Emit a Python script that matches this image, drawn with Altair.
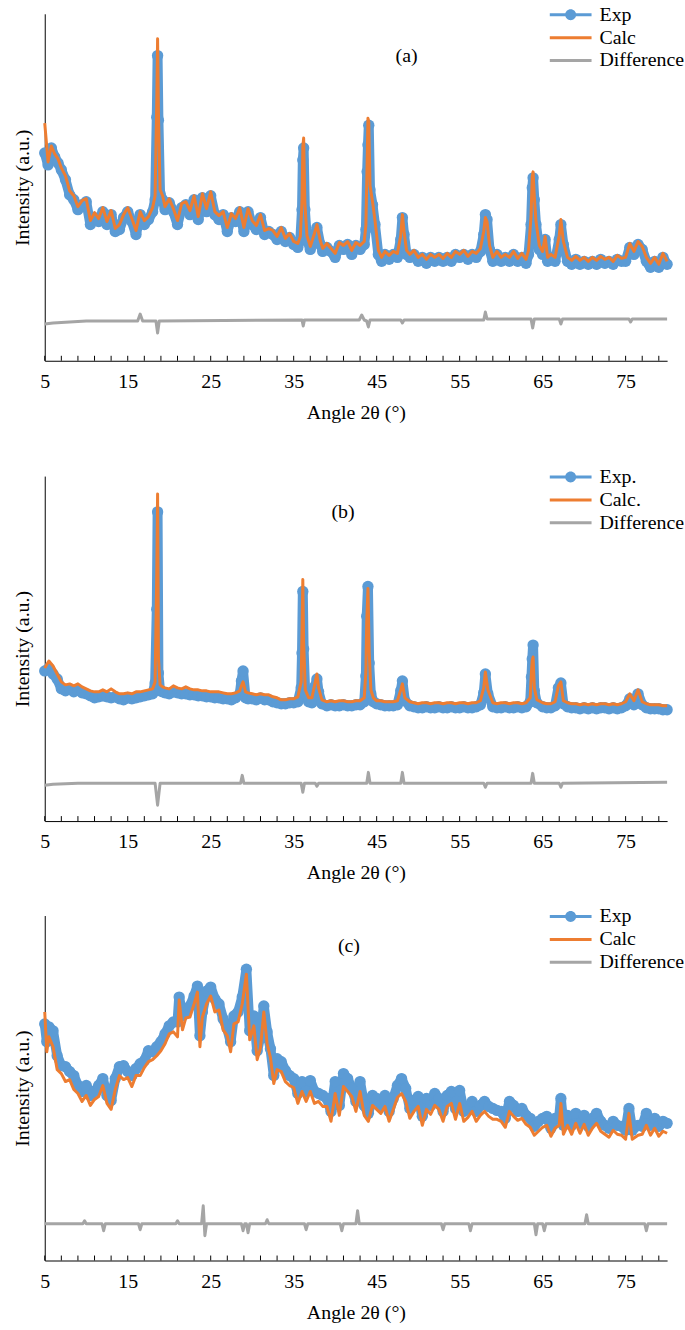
import altair as alt
import pandas as pd

BLUE = "#5B9BD5"
ORANGE = "#ED7D31"
GRAY = "#A5A5A5"
FONT = "Liberation Serif"

# ---------------- panel (a) ----------------
a_angle = [5, 5.4, 5.8, 6.2, 6.6, 7, 7.5, 8, 8.5, 9, 9.5, 10, 10.5, 11, 11.5, 12, 12.5, 13, 13.5, 14,
           14.5, 15, 15.5, 16, 16.5, 17, 17.5, 18, 18.3, 18.5, 18.6, 18.7, 18.9, 19.2, 19.5, 20, 20.5, 21,
           21.5, 22, 22.5, 23, 23.5, 24, 24.5, 25, 25.5, 26, 26.5, 27, 27.5, 28, 28.5, 29, 29.5, 30, 30.5,
           31, 31.5, 32, 32.5, 33, 33.5, 34, 34.5, 35, 35.5, 35.8, 36.0, 36.1, 36.2, 36.35, 36.6, 37, 37.5,
           37.8, 38.2, 38.5, 39, 39.5, 40, 40.5, 41, 41.5, 42, 42.5, 43, 43.5, 43.7, 43.85, 43.95, 44.05,
           44.2, 44.5, 44.8, 45.2, 45.6, 46, 46.5, 47, 47.5, 47.9, 48.1, 48.3, 48.6, 49, 49.5, 50, 50.5, 51,
           51.5, 52, 52.5, 53, 53.5, 54, 54.5, 55, 55.5, 56, 56.5, 57, 57.5, 57.9, 58.1, 58.3, 58.6, 59,
           59.5, 60, 60.5, 61, 61.5, 62, 62.5, 63, 63.3, 63.6, 63.75, 63.85, 64.0, 64.2, 64.6, 65, 65.3,
           65.6, 66, 66.5, 67, 67.2, 67.5, 68, 68.5, 69, 69.5, 70, 70.5, 71, 71.5, 72, 72.5, 73, 73.5, 74,
           74.5, 75, 75.5, 76, 76.5, 77, 77.5, 78, 78.5, 79, 79.5, 80]
a_exp = [209, 197, 214, 205, 199, 192, 182, 167, 162, 152, 157, 160, 137, 144, 140, 150, 137, 147, 130, 132,
         144, 150, 140, 127, 147, 137, 142, 150, 162, 245, 307, 242, 168, 162, 152, 159, 150, 137,
         154, 157, 147, 162, 142, 164, 150, 166, 147, 142, 147, 130, 144, 140, 150, 130, 150, 137, 132,
         144, 127, 130, 127, 122, 130, 120, 124, 117, 114, 122, 152, 202, 214, 152, 122, 112, 124,
         134, 117, 110, 114, 110, 104, 116, 112, 117, 107, 116, 112, 117, 132, 190, 217, 237,
         172, 157, 137, 107, 100, 107, 102, 107, 104, 122, 144, 127, 107, 104, 107, 100, 104, 98,
         104, 100, 104, 100, 104, 100, 107, 104, 107, 102, 107, 104, 110, 127, 147, 142, 112, 100,
         107, 100, 104, 100, 107, 100, 104, 98, 107, 137, 174, 184, 162, 137, 112, 107, 122,
         100, 104, 100, 122, 137, 117, 100, 97, 102, 97, 100, 97, 100, 97, 102, 98, 100, 97, 102,
         100, 100, 114, 107, 117, 112, 100, 94, 100, 94, 104, 97]
a_calc = [239, 200, 216, 208, 203, 194, 186, 171, 166, 155, 161, 163, 141, 149, 143, 154, 140, 151, 133, 137,
          147, 154, 143, 131, 150, 141, 145, 154, 166, 262, 324, 250, 172, 166, 155, 163, 153, 141,
          158, 160, 151, 166, 145, 168, 153, 170, 150, 146, 150, 134, 148, 143, 154, 134, 153, 141, 136,
          147, 131, 133, 131, 125, 134, 123, 128, 120, 118, 125, 160, 215, 224, 158, 126, 115, 128,
          137, 121, 113, 118, 113, 108, 119, 116, 120, 111, 119, 116, 120, 136, 200, 244, 240,
          176, 160, 141, 111, 104, 110, 106, 110, 108, 126, 147, 130, 111, 107, 111, 104, 107, 102,
          107, 104, 107, 103, 108, 104, 110, 107, 111, 105, 110, 108, 113, 130, 144, 140, 116, 104,
          110, 104, 107, 104, 110, 103, 108, 102, 111, 145, 185, 190, 165, 140, 116, 110, 125,
          104, 107, 104, 126, 142, 120, 104, 101, 105, 101, 104, 100, 104, 101, 105, 102, 104, 100, 106,
          103, 104, 118, 110, 120, 115, 104, 98, 104, 97, 108, 100]
a_diff_angle = [5, 6, 8, 10, 16.2, 16.5, 16.8, 18.4, 18.6, 18.8, 36.0, 36.15, 36.3, 42.9, 43.2, 43.5, 43.8,
                44.0, 44.2, 47.9, 48.1, 48.3, 57.9, 58.1, 58.3, 63.6, 63.8, 64.0, 67.0, 67.2, 67.4, 75.4,
                75.6, 75.8, 80]
a_diff = [37, 38, 39, 40, 40, 47, 40, 40, 28, 40, 41, 35, 41, 41, 46, 41, 40,
          34, 41, 41, 38, 41, 41, 49, 42, 42, 33, 42, 42, 37, 42, 42,
          39, 42, 42]

# ---------------- panel (b) ----------------
b_angle = [5, 5.5, 6, 6.5, 7, 7.5, 8, 8.5, 9, 9.5, 10, 10.5, 11, 11.5, 12, 12.5, 13, 13.5, 14, 14.5, 15,
           15.5, 16, 16.5, 17, 17.5, 18, 18.3, 18.5, 18.6, 18.7, 18.9, 19.2, 19.5, 20, 20.5, 21, 21.5, 22,
           22.5, 23, 23.5, 24, 24.5, 25, 25.5, 26, 26.5, 27, 27.5, 28, 28.5, 28.7, 28.9, 29.2, 29.5, 30,
           30.5, 31, 31.5, 32, 32.5, 33, 33.5, 34, 34.5, 35, 35.5, 35.9, 36.0, 36.1, 36.2, 36.4, 36.8,
           37.2, 37.6, 37.8, 38.0, 38.4, 39, 39.5, 40, 40.5, 41, 41.5, 42, 42.5, 43, 43.5, 43.7, 43.8,
           43.95, 44.1, 44.3, 44.6, 45, 45.5, 46, 46.5, 47, 47.5, 47.9, 48.1, 48.4, 49, 49.5, 50, 50.5,
           51, 51.5, 52, 52.5, 53, 53.5, 54, 54.5, 55, 55.5, 56, 56.5, 57, 57.5, 57.9, 58.1, 58.4, 59,
           59.5, 60, 60.5, 61, 61.5, 62, 62.5, 63, 63.5, 63.65, 63.75, 63.85, 64.0, 64.3, 65, 65.5, 66,
           66.5, 66.9, 67.2, 67.5, 68, 68.5, 69, 69.5, 70, 70.5, 71, 71.5, 72, 72.5, 73, 73.5, 74, 74.5,
           75, 75.5, 76, 76.5, 77, 77.5, 78, 78.5, 79, 79.5, 80]
b_exp = [151, 154, 148, 143, 133, 131, 133, 130, 132, 129, 128, 126, 124, 125, 126, 125, 124, 125, 123, 122, 124,
         123, 124, 125, 126, 127, 128, 139, 213, 311, 149, 131, 130, 129, 128, 130, 129, 128, 128,
         127, 127, 126, 126, 125, 125, 124, 124, 123, 123, 122, 124, 128, 141, 151, 124, 123, 123,
         122, 124, 122, 122, 120, 119, 118, 118, 119, 119, 120, 134, 169, 231, 173, 128, 120,
         119, 136, 143, 130, 118, 116, 117, 116, 116, 117, 116, 116, 117, 117, 120, 146, 206,
         236, 159, 128, 120, 118, 117, 116, 116, 116, 117, 131, 141, 121, 116, 115, 114, 114,
         115, 114, 114, 115, 114, 114, 115, 114, 114, 115, 114, 114, 115, 117, 129, 148, 128, 115,
         114, 114, 115, 114, 114, 115, 114, 115, 120, 145, 163, 177, 131, 119, 115, 114, 114,
         116, 134, 139, 118, 115, 114, 114, 113, 114, 113, 114, 113, 114, 114, 113, 114, 113, 114,
         116, 123, 117, 128, 117, 114, 113, 113, 113, 112, 112]
b_calc = [154, 161, 156, 148, 140, 137, 138, 136, 138, 135, 133, 131, 130, 130, 132, 130, 133, 130, 128, 128, 129,
          128, 130, 130, 131, 132, 133, 140, 250, 329, 165, 137, 135, 134, 133, 136, 134, 133, 135,
          133, 132, 132, 131, 131, 130, 130, 130, 129, 128, 128, 129, 131, 136, 140, 130, 129, 128,
          127, 128, 127, 127, 125, 124, 122, 122, 123, 123, 125, 140, 190, 243, 180, 132, 124,
          124, 140, 148, 134, 122, 120, 121, 120, 121, 121, 120, 120, 121, 121, 124, 150, 200,
          234, 170, 132, 124, 121, 121, 120, 120, 120, 121, 132, 138, 124, 120, 119, 118, 119,
          119, 118, 119, 119, 118, 119, 119, 118, 119, 119, 118, 119, 119, 121, 134, 150, 132, 119,
          118, 119, 119, 118, 119, 119, 118, 119, 124, 150, 162, 165, 134, 122, 119, 118, 118,
          120, 136, 140, 121, 119, 118, 118, 117, 118, 117, 118, 117, 118, 118, 117, 118, 117, 118,
          120, 128, 121, 132, 120, 118, 117, 117, 117, 116, 116]
b_diff_angle = [5, 6, 9, 18.3, 18.6, 18.9, 28.6, 28.8, 29.0, 35.9, 36.1, 36.3, 37.6, 37.8, 38.0, 43.8, 44.0,
                44.2, 47.9, 48.1, 48.3, 57.9, 58.1, 58.3, 63.6, 63.8, 64.0, 67.0, 67.2, 67.4, 80]
b_diff = [36, 37, 38, 38, 16, 38, 38, 46, 38, 38, 29, 38, 38, 35, 38, 38, 49,
          38, 38, 49, 38, 38, 34, 38, 38, 48, 38, 38, 34, 38, 39]

# ---------------- panel (c) ----------------
c_angle = [5, 5.25, 5.5, 6, 6.5, 7, 7.5, 8, 8.5, 9, 9.5, 10, 10.5, 11, 11.5, 12, 12.5, 13, 13.5, 14, 14.5,
           15, 15.5, 16, 16.5, 17, 17.5, 18, 18.5, 19, 19.5, 20, 20.5, 21, 21.2, 21.6, 22, 22.5, 23, 23.4,
           23.7, 24, 24.5, 25, 25.5, 26, 26.5, 27, 27.4, 27.8, 28.3, 28.8, 29.3, 29.7, 30.2, 30.6, 31,
           31.4, 31.8, 32.2, 32.6, 33, 33.5, 34, 34.5, 35, 35.5, 36, 36.5, 37, 37.5, 38, 38.5, 39, 39.5,
           40, 40.5, 41, 41.5, 42, 42.5, 43, 43.5, 44, 44.5, 45, 45.5, 46, 46.5, 47, 47.5, 48, 48.5, 49,
           49.5, 50, 50.5, 51, 51.5, 52, 52.5, 53, 53.5, 54, 54.5, 55, 55.5, 56, 56.5, 57, 57.5, 58,
           58.5, 59, 59.5, 60, 60.5, 61, 61.5, 62, 62.5, 63, 63.5, 64, 64.5, 65, 65.5, 66, 66.5, 67,
           67.2, 67.5, 68, 68.5, 69, 69.5, 70, 70.5, 71, 71.5, 72, 72.5, 73, 73.5, 74, 74.5, 75, 75.4,
           75.8, 76.5, 77, 77.5, 78, 78.5, 79, 79.5, 80]
c_exp = [238, 220, 235, 231, 206, 196, 195, 190, 186, 176, 170, 176, 166, 170, 176, 183, 166, 161, 183, 195, 196,
         190, 186, 193, 198, 201, 211, 210, 215, 220, 228, 236, 240, 240, 265, 246, 250, 256, 266, 276,
         226, 250, 271, 275, 263, 258, 243, 233, 220, 246, 250, 265, 293, 231, 246, 211, 226,
         256, 230, 213, 186, 203, 200, 191, 186, 183, 168, 180, 170, 181, 170, 168, 166, 163, 150,
         180, 156, 188, 183, 173, 160, 180, 156, 148, 166, 163, 156, 166, 150, 163, 176, 183, 173, 153,
         161, 165, 145, 163, 156, 168, 163, 150, 166, 170, 153, 171, 150, 153, 160, 150, 156, 160,
         155, 153, 151, 150, 143, 160, 156, 150, 153, 146, 143, 135, 140, 143, 145, 133, 143, 145,
         163, 136, 146, 136, 148, 138, 146, 135, 143, 148, 140, 136, 133, 140, 136, 135, 131, 153,
         131, 136, 135, 148, 136, 143, 135, 140, 138]
c_calc = [250, 210, 225, 215, 192, 188, 180, 182, 172, 168, 160, 166, 156, 162, 165, 176, 158, 152, 172, 186, 182,
          184, 175, 186, 186, 194, 200, 202, 206, 211, 218, 228, 230, 225, 262, 232, 244, 245, 258, 270,
          215, 245, 258, 266, 250, 252, 232, 226, 210, 238, 240, 258, 288, 222, 236, 202, 214,
          250, 218, 204, 178, 192, 190, 180, 176, 174, 158, 170, 160, 170, 158, 160, 155, 155, 140,
          168, 146, 175, 170, 165, 150, 170, 146, 140, 156, 152, 148, 155, 140, 152, 164, 168, 160, 143,
          150, 155, 136, 152, 147, 156, 152, 140, 155, 158, 142, 158, 140, 144, 150, 140, 146, 150,
          145, 142, 142, 140, 134, 150, 145, 141, 143, 137, 134, 126, 130, 134, 136, 125, 133, 136,
          158, 127, 136, 127, 138, 128, 137, 126, 133, 138, 130, 127, 124, 131, 127, 126, 122, 148,
          122, 126, 127, 136, 126, 133, 125, 130, 128]
c_diff_angle = [5, 9.6, 9.8, 10.0, 11.9, 12.1, 12.3, 16.3, 16.5, 16.7, 20.8, 21.0, 21.2, 23.9, 24.1, 24.3,
                24.5, 28.7, 28.9, 29.1, 29.3, 29.5, 29.7, 31.6, 31.8, 32.0, 36.3, 36.5, 36.7, 40.6, 40.8,
                41.0, 42.5, 42.7, 42.9, 52.8, 53.0, 53.2, 56.1, 56.3, 56.5, 64.0, 64.2, 64.4, 65.0, 65.2,
                65.4, 70.1, 70.3, 70.5, 77.3, 77.5, 77.7, 80]
c_diff = [37, 37, 40, 37, 37, 30, 37, 37, 31, 37, 37, 40, 37, 37, 55, 25,
          37, 37, 30, 37, 37, 28, 37, 37, 41, 37, 37, 31, 37, 37, 30,
          37, 37, 50, 37, 37, 31, 37, 37, 30, 37, 37, 26, 37, 37, 30,
          37, 37, 46, 37, 37, 30, 37, 37]

a_names = ["Exp", "Calc", "Difference"]
b_names = ["Exp.", "Calc.", "Difference"]
c_names = ["Exp", "Calc", "Difference"]

# labelled 2θ values and minor tick positions
LABELS = [5, 15, 25, 35, 45, 55, 65, 75]
TICKS = list(range(5, 80, 2))

LINE_PATH = "M-4.2,-0.3L4.2,-0.3L4.2,0.3L-4.2,0.3Z"
EXP_PATH = LINE_PATH + "M1.1,0A1.1,1.1,0,1,1,-1.1,0A1.1,1.1,0,1,1,1.1,0Z"

W = 626
XT = "Angle 2θ (°)"
YT = "Intensity (a.u.)"


def panel(angle, exp, calc, dang, diff, names, tag, tag_x, tag_y, h, ymax):
    main = pd.DataFrame({"angle": angle, "exp": exp, "calc": calc})
    dd = pd.DataFrame({"angle": dang, "diff": diff})
    tk = pd.DataFrame({"angle": TICKS})
    xscale = alt.Scale(domain=[5, 80], nice=False, zero=False)
    yscale = alt.Scale(domain=[0, ymax], nice=False, zero=False)
    xaxis = alt.Axis(values=LABELS, ticks=False, grid=False, domainColor="black", domainWidth=1,
                     labelFont=FONT, labelFontSize=20, labelColor="black", labelPadding=11,
                     labelFlush=False, labelOverlap=False,
                     titleFont=FONT, titleFontSize=20, titleFontWeight="normal",
                     titleColor="black", titlePadding=11)
    yaxis = alt.Axis(labels=False, ticks=False, grid=False, domainColor="black", domainWidth=1,
                     titleFont=FONT, titleFontSize=20, titleFontWeight="normal",
                     titleColor="black", titlePadding=12)
    base = alt.Chart(main)
    exp_line = base.mark_line(color=BLUE, strokeWidth=10, strokeJoin="round", strokeCap="round").encode(
        x=alt.X("angle:Q", scale=xscale, axis=xaxis, title=XT),
        y=alt.Y("exp:Q", scale=yscale, axis=yaxis, title=YT))
    exp_pts = base.mark_circle(color=BLUE, size=130, opacity=1).encode(
        x=alt.X("angle:Q", axis=xaxis, title=XT), y=alt.Y("exp:Q", axis=yaxis, title=YT))
    calc_line = base.mark_line(color=ORANGE, strokeWidth=3, strokeJoin="round").encode(
        x=alt.X("angle:Q", axis=xaxis, title=XT), y=alt.Y("calc:Q", axis=yaxis, title=YT))
    diff_line = alt.Chart(dd).mark_line(color=GRAY, strokeWidth=3, strokeJoin="round").encode(
        x=alt.X("angle:Q", axis=xaxis, title=XT), y=alt.Y("diff:Q", axis=yaxis, title=YT))
    tick_marks = alt.Chart(tk).mark_rule(color="black", strokeWidth=1).encode(
        x=alt.X("angle:Q", axis=xaxis, title=XT), y=alt.value(h), y2=alt.value(h - 5))
    leg_def = dict(orient="none", legendX=519, legendY=-9, title=None, labelFont=FONT,
                   labelFontSize=20, labelColor="black", symbolSize=100, symbolStrokeWidth=0,
                   labelOffset=19, rowPadding=3, padding=0, symbolOpacity=1)
    leg = alt.Chart(pd.DataFrame({"series": names})).mark_point(filled=True, opacity=0).encode(
        color=alt.Color("series:N", scale=alt.Scale(domain=names, range=[BLUE, ORANGE, GRAY]),
                        legend=alt.Legend(**leg_def)),
        shape=alt.Shape("series:N", scale=alt.Scale(domain=names, range=[EXP_PATH, LINE_PATH, LINE_PATH]),
                        legend=alt.Legend(**leg_def)))
    tag_text = alt.Chart(pd.DataFrame({"t": [tag]})).mark_text(
        font=FONT, fontSize=20, color="black").encode(
        text="t:N", x=alt.value(tag_x), y=alt.value(tag_y))
    return alt.layer(exp_line, exp_pts, calc_line, diff_line, tick_marks, leg, tag_text).properties(
        width=W, height=h)


pa = panel(a_angle, a_exp, a_calc, a_diff_angle, a_diff, a_names, "(a)", 364, 42, 349, 349)
pb = panel(b_angle, b_exp, b_calc, b_diff_angle, b_diff, b_names, "(b)", 300, 36, 347, 347)
pc = panel(c_angle, c_exp, c_calc, c_diff_angle, c_diff, c_names, "(c)", 306, 31, 347, 347)

top = alt.vconcat(pa, pb, spacing=45).resolve_scale(
    color="independent", shape="independent").resolve_legend(color="independent", shape="independent")
chart = alt.vconcat(top, pc, spacing=24).resolve_scale(
    color="independent", shape="independent").resolve_legend(
    color="independent", shape="independent").properties(
    padding={"left": 13, "top": 1, "right": 0, "bottom": 0}, background="white"
).configure_view(stroke=None)

chart.save("out.html", embed_options={"renderer": "svg", "actions": False})
